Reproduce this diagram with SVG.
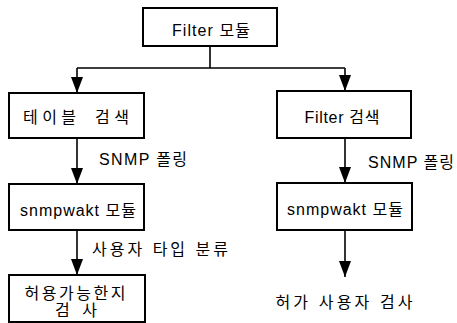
<svg xmlns="http://www.w3.org/2000/svg" width="457" height="323" viewBox="0 0 457 323">
  <defs>
    <marker id="arrow" markerUnits="userSpaceOnUse" markerWidth="16" markerHeight="12" refX="16" refY="6" orient="auto" viewBox="0 0 16 12">
      <path d="M0,0 L16,6 L0,12 z" fill="#000"/>
    </marker>
    <style>
      .box { fill: #fff; stroke: #000; stroke-width: 2; }
      .link { fill: none; stroke: #000; stroke-width: 1.6; }
      .arr { marker-end: url(#arrow); }
      text { font-family: "Liberation Sans", "Noto Sans CJK KR", sans-serif; font-size: 16px; fill: #000; text-anchor: middle; }
      .lbl { text-anchor: start; }
    </style>
  </defs>
  <rect width="457" height="323" fill="#fff"/>

  <!-- connectors -->
  <g id="connectors">
    <path class="link" d="M210,46 V68 M77,68 H345"/>
    <path class="link arr" d="M77,68 V93"/>
    <path class="link arr" d="M345,68 V91"/>
    <path class="link arr" d="M77,138 V184"/>
    <path class="link arr" d="M345,138 V183"/>
    <path class="link arr" d="M77,230 V275"/>
    <path class="link arr" d="M345,230 V277"/>
    <text class="lbl" x="99" y="165" textLength="88" lengthAdjust="spacing">SNMP 폴링</text>
    <text class="lbl" x="368" y="168" textLength="86" lengthAdjust="spacing">SNMP 폴링</text>
    <text class="lbl" x="92" y="255" textLength="136" lengthAdjust="spacing">사용자 타입 분류</text>
  </g>

  <!-- top module -->
  <g id="filter-module">
    <rect class="box" x="143" y="8" width="134" height="38"/>
    <text x="211" y="36" textLength="78" lengthAdjust="spacing">Filter 모듈</text>
  </g>

  <!-- left branch -->
  <g id="table-search">
    <rect class="box" x="9" y="93" width="135" height="45"/>
    <text class="lbl" x="23" y="123" textLength="53" lengthAdjust="spacing">테이블</text>
    <text class="lbl" x="95" y="123" textLength="34" lengthAdjust="spacing">검색</text>
  </g>
  <g id="snmpwalk-left">
    <rect class="box" x="9" y="184" width="135" height="46"/>
    <text x="78" y="216" textLength="116" lengthAdjust="spacing">snmpwakt 모듈</text>
  </g>
  <g id="allow-check">
    <rect class="box" x="9" y="275" width="136" height="47"/>
    <text x="75" y="299" textLength="101" lengthAdjust="spacing">허용가능한지</text>
    <text x="76" y="316" textLength="42" lengthAdjust="spacing">검 사</text>
  </g>

  <!-- right branch -->
  <g id="filter-search">
    <rect class="box" x="277" y="91" width="134" height="47"/>
    <text x="342" y="123" textLength="75" lengthAdjust="spacing">Filter 검색</text>
  </g>
  <g id="snmpwalk-right">
    <rect class="box" x="277" y="183" width="135" height="47"/>
    <text x="345" y="215" textLength="116" lengthAdjust="spacing">snmpwakt 모듈</text>
  </g>
  <g id="permitted-user-check">
    <text x="344" y="308" textLength="137" lengthAdjust="spacing">허가 사용자 검사</text>
  </g>
</svg>
